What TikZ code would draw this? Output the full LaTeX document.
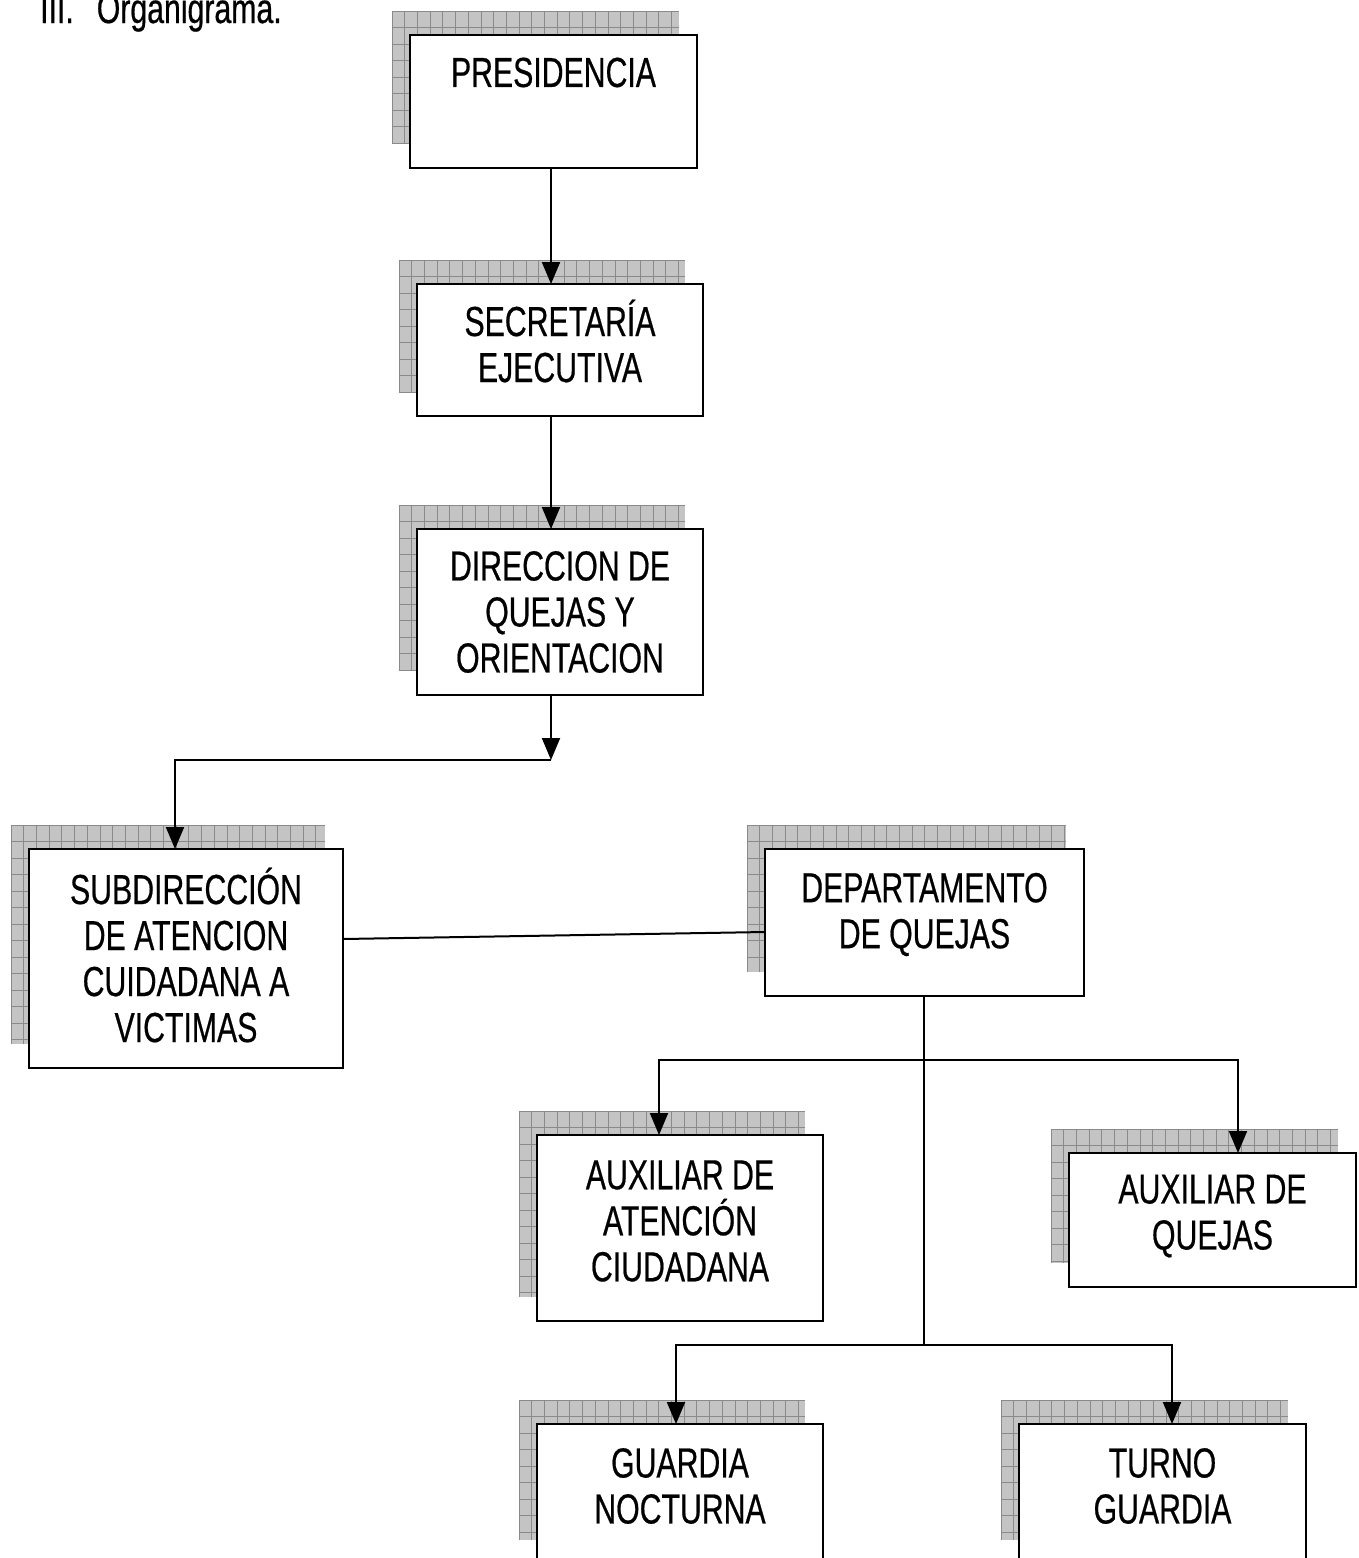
\documentclass[tikz,border=0pt]{standalone}
\usepackage{fontspec}
\setmainfont{Liberation Sans}[FakeStretch=0.72,FakeBold=0.5]
\usetikzlibrary{arrows.meta,calc}
\definecolor{shfillc}{HTML}{C4C4C4}
\definecolor{shgridc}{HTML}{8A8A8A}
\tikzset{
  orgbox/.style={draw=black, line width=2pt, fill=white, inner sep=0pt, outer sep=0pt},
  orgtext/.style={inner sep=0pt, align=center, font=\fontsize{42}{46}\selectfont},
  shfill/.style={fill=shfillc},
  shgrid/.style={draw=shgridc, line width=0.8pt},
  conn/.style={draw=black, line width=2pt},
  arr/.style={conn, -{Triangle[width=18pt,length=22pt]}},
}
% #1 name, #2..#5 box corners, #6 text, #7 upward shift of the text
\newcommand\orgbox[7]{%
  \fill[shfill] ({#2-18},{#3-24}) rectangle ({#4-18},{#5-24});
  \begin{scope}
    \clip ({#2-18},{#3-24}) rectangle ({#4-18},{#5-24});
    \foreach \k in {0,...,30} {\draw[shgrid] ({#2-18+\k*12.7},{#3-24}) -- ({#2-18+\k*12.7},{#5-24});}
    \foreach \k in {0,...,16} {\draw[shgrid] ({#2-18},{#3-24+\k*16.5}) -- ({#4-18},{#3-24+\k*16.5});}
  \end{scope}
  \node[orgbox, minimum width={#4-#2}, minimum height={#5-#3}] (#1) at ({(#2+#4)/2},{(#3+#5)/2}) {};
  \node[orgtext] (#1-t) at ([yshift=#7]#1.center) {#6};
}
\begin{document}
\begin{tikzpicture}[x=1pt,y=-1pt]
\useasboundingbox (0,0) rectangle (1359,1558);
\clip (0,0) rectangle (1359,1558);
\fill[white] (0,0) rectangle (1359,1558);

\node[anchor=base west, inner sep=0pt, font=\fontsize{42}{46}\selectfont] (title) at (40,23) {III.\hspace{23pt}Organigrama.};

\orgbox{pres}{410}{35}{697}{168}{PRESIDENCIA}{29pt}
\orgbox{sec}{417}{284}{703}{416}{SECRETARÍA\\EJECUTIVA}{9pt}
\orgbox{dir}{417}{529}{703}{695}{DIRECCION DE\\QUEJAS Y\\ORIENTACION}{0pt}
\orgbox{sub}{29}{849}{343}{1068}{SUBDIRECCIÓN\\DE ATENCION\\CUIDADANA A\\VICTIMAS}{3.5pt}
\orgbox{dep}{765}{849}{1084}{996}{DEPARTAMENTO\\DE QUEJAS}{8pt}
\orgbox{aux1}{537}{1135}{823}{1321}{AUXILIAR DE\\ATENCIÓN\\CIUDADANA}{7pt}
\orgbox{aux2}{1069}{1153}{1356}{1287}{AUXILIAR DE\\QUEJAS}{4pt}
\orgbox{guar}{537}{1424}{823}{1564}{GUARDIA\\NOCTURNA}{8pt}
\orgbox{turn}{1019}{1424}{1306}{1564}{TURNO\\GUARDIA}{8pt}

\coordinate (j1) at (551,760);
\coordinate (j2) at (924,1060);
\coordinate (j3) at (924,1345);

\draw[arr] ([xshift=-2.5pt]pres.south) -- ([xshift=-9pt]sec.north);
\draw[arr] ([xshift=-9pt]sec.south) -- ([xshift=-9pt]dir.north);
\draw[arr] ([xshift=-9pt]dir.south) -- (j1);
\draw[arr] (j1) -| ([xshift=-11pt]sub.north);
\draw[conn] ([yshift=19.5pt]sub.east) -- ([yshift=-9.5pt]dep.west);
\draw[conn] ([xshift=-0.5pt]dep.south) -- (j3);
\draw[arr] (j2) -| ([xshift=-21pt]aux1.north);
\draw[arr] (j2) -| ([xshift=25.5pt]aux2.north);
\draw[arr] (j3) -| ([xshift=-4pt]guar.north);
\draw[arr] (j3) -| ([xshift=9.5pt]turn.north);
\end{tikzpicture}
\end{document}
